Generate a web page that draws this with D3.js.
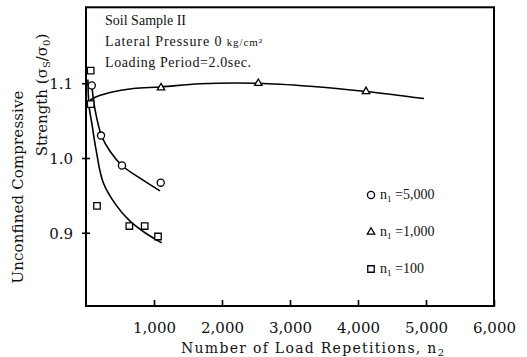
<!DOCTYPE html>
<html>
<head>
<meta charset="utf-8">
<script src="https://cdn.jsdelivr.net/npm/d3@7/dist/d3.min.js"></script>
<style>
  html, body { margin: 0; padding: 0; background: #fff; }
  svg { display: block; }
  text { fill: #111; }
</style>
</head>
<body>
<svg id="chart" width="527" height="357"></svg>
<script>
// Measured points: n2 (load repetitions) and strength ratio σs/σ0
const n5000_n2 = [85, 221, 529, 1099];
const n5000_ratio = [1.097, 1.030, 0.990, 0.967];

const n1000_n2 = [1103, 2534, 4118];
const n1000_ratio = [1.094, 1.100, 1.089];

const n100_n2 = [69, 69, 162, 637, 863, 1059];
const n100_ratio = [1.117, 1.072, 0.936, 0.909, 0.909, 0.895];

// Hand-fitted trend curves
const fit5000_n2 = [88, 132, 231, 353, 529, 794, 1088];
const fit5000_ratio = [1.0946, 1.065, 1.029, 1.009, 0.990, 0.973, 0.956];

const fit1000_n2 = [59, 107, 353, 696, 1103, 1676, 2529, 3294, 4118, 4971];
const fit1000_ratio = [1.077, 1.080, 1.0875, 1.093, 1.095, 1.0993, 1.100, 1.096, 1.089, 1.0795];

const fit100_n2 = [28, 44, 88, 147, 254, 451, 647, 868, 1113];
const fit100_ratio = [1.105, 1.0705, 1.045, 1.0115, 0.967, 0.936, 0.9155, 0.900, 0.8865];

// Axis ticks
const xTicks = [1000, 2000, 3000, 4000, 5000, 6000];
const yTicks = [0.9, 1.0, 1.1];

// Legend entries
const legendSymbols = ["circle", "triangle", "square"];
const legendValues = ["5,000", "1,000", "100"];

const svg = d3.select("#chart");
const serif = "'DejaVu Serif', serif";
const lib = "'Liberation Serif', serif";

const x = d3.scaleLinear().domain([0, 6000]).range([86, 494]);
const y = d3.scaleLinear().domain([0.8, 1.2]).range([307.5, 8.5]);

// frame
svg.append("rect")
  .attr("x", 86).attr("y", 7.3)
  .attr("width", 494 - 86).attr("height", 306 - 7.3)
  .attr("fill", "none").attr("stroke", "#000").attr("stroke-width", 2);

// x axis
const xAxis = svg.append("g")
  .attr("transform", "translate(0,306)")
  .call(d3.axisBottom(x).tickValues(xTicks).tickFormat(d3.format(",")).tickSizeInner(-6).tickSizeOuter(0).tickPadding(16));
xAxis.select(".domain").remove();
xAxis.selectAll("line").attr("stroke", "#000").attr("stroke-width", 1.6);
xAxis.selectAll("text").attr("font-family", serif).attr("font-size", 15).attr("fill", "#111");

// y axis
const yAxis = svg.append("g")
  .attr("transform", "translate(86,0)")
  .call(d3.axisLeft(y).tickValues(yTicks).tickFormat(d3.format(".1f")).tickSizeInner(4).tickSizeOuter(0).tickPadding(9));
yAxis.select(".domain").remove();
yAxis.selectAll("line").attr("x1", 4).attr("stroke", "#000").attr("stroke-width", 1.6);
yAxis.selectAll("text").attr("font-family", serif).attr("font-size", 15).attr("fill", "#111").attr("dy", "0.36em");

// axis titles
svg.append("text")
  .attr("x", (181 + 444) / 2).attr("y", 353)
  .attr("text-anchor", "middle")
  .attr("font-family", serif).attr("font-size", 14)
  .attr("textLength", 263).attr("lengthAdjust", "spacing")
  .call(t => {
    t.append("tspan").text("Number of Load Repetitions, n");
    t.append("tspan").attr("font-size", 10).attr("dy", 3).text("2");
  });

svg.append("text")
  .attr("transform", "translate(23,187) rotate(-90)")
  .attr("text-anchor", "middle")
  .attr("font-family", serif).attr("font-size", 15)
  .attr("textLength", 193).attr("lengthAdjust", "spacing")
  .text("Unconfined Compressive");

svg.append("text")
  .attr("transform", "translate(47,95) rotate(-90)")
  .attr("text-anchor", "middle")
  .attr("font-family", serif).attr("font-size", 15)
  .call(t => {
    t.append("tspan").text("Strength (σ");
    t.append("tspan").attr("font-size", 10).attr("dy", 3).text("S");
    t.append("tspan").attr("dy", -3).text("/σ");
    t.append("tspan").attr("font-size", 10).attr("dy", 3).text("0");
    t.append("tspan").attr("dy", -3).text(")");
  });

// test conditions
const notes = svg.append("g").attr("font-family", lib).attr("font-size", 14);
notes.append("text").attr("x", 105).attr("y", 25)
  .attr("textLength", 81).attr("lengthAdjust", "spacing").text("Soil Sample II");
notes.append("text").attr("x", 105).attr("y", 46)
  .attr("textLength", 157).attr("lengthAdjust", "spacing")
  .call(t => {
    t.append("tspan").text("Lateral Pressure  0 ");
    t.append("tspan").attr("font-size", 11).text("kg/cm²");
  });
notes.append("text").attr("x", 105).attr("y", 67)
  .attr("textLength", 146).attr("lengthAdjust", "spacing").text("Loading Period=2.0sec.");

// fitted curves
const line = d3.line().x(d => x(d[0])).y(d => y(d[1])).curve(d3.curveCatmullRom.alpha(0.5));
const fits = [
  [fit5000_n2, fit5000_ratio],
  [fit1000_n2, fit1000_ratio],
  [fit100_n2, fit100_ratio]
];
fits.forEach(([xs, ys]) => {
  svg.append("path")
    .datum(xs.map((v, i) => [v, ys[i]]))
    .attr("d", line)
    .attr("fill", "none").attr("stroke", "#000").attr("stroke-width", 1.6);
});

// markers
const symbolGen = {
  circle: d3.symbol().type(d3.symbolCircle).size(40),
  triangle: d3.symbol().type(d3.symbolTriangle).size(24),
  square: d3.symbol().type(d3.symbolSquare).size(42)
};
function drawMarkers(xs, ys, kind) {
  svg.append("g").selectAll("path")
    .data(xs.map((v, i) => [v, ys[i]]))
    .join("path")
    .attr("transform", d => `translate(${x(d[0])},${y(d[1])})`)
    .attr("d", symbolGen[kind]())
    .attr("fill", "#fff").attr("stroke", "#000").attr("stroke-width", 1.3);
}
drawMarkers(n5000_n2, n5000_ratio, "circle");
drawMarkers(n1000_n2, n1000_ratio, "triangle");
drawMarkers(n100_n2, n100_ratio, "square");

// legend
const legendY = [195, 232, 269];
legendSymbols.forEach((kind, i) => {
  svg.append("path")
    .attr("transform", `translate(371,${legendY[i]})`)
    .attr("d", symbolGen[kind]())
    .attr("fill", "#fff").attr("stroke", "#000").attr("stroke-width", 1.3);
  const t = svg.append("text")
    .attr("x", 380).attr("y", legendY[i] + 4)
    .attr("font-family", lib).attr("font-size", 14);
  t.append("tspan").text("n");
  t.append("tspan").attr("font-size", 9).attr("dy", 3).text("1");
  t.append("tspan").attr("dy", -3).text(" =" + legendValues[i]);
});
</script>
</body>
</html>
